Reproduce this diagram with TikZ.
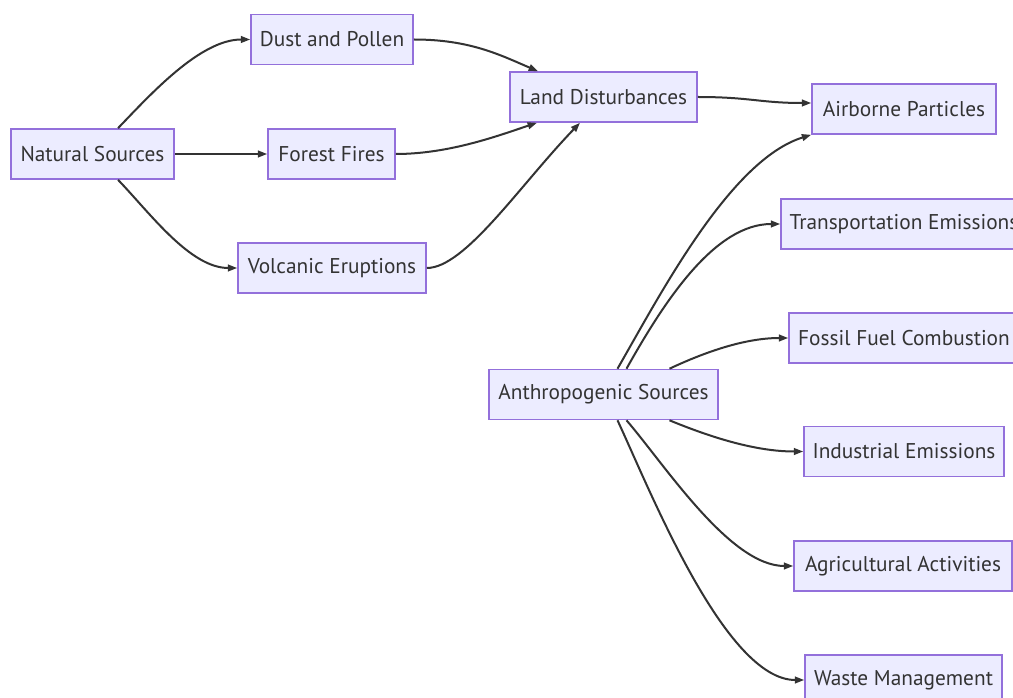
\documentclass[tikz,border=0pt]{standalone}
\usepackage{fontspec}
\setmainfont{PT Sans}
\usetikzlibrary{arrows.meta,calc}
\definecolor{boxfill}{HTML}{ECECFF}
\definecolor{boxline}{HTML}{9370DB}
\definecolor{inkgray}{HTML}{333333}
\tikzset{
  box/.style={draw=boxline, fill=boxfill, line width=1.2pt, rectangle,
    minimum height=50*0.75pt, inner sep=0pt, text=inkgray,
    font=\fontsize{16pt}{19pt}\selectfont},
  boxw/.style={box, minimum width=#1*0.75pt},
  link/.style={draw=inkgray, line width=1.5pt,
    -{Triangle[length=7pt,width=5pt]}},
}
\begin{document}
\begin{tikzpicture}[x=0.75pt,y=-0.75pt]
\useasboundingbox (0,0) rectangle (1013,698);
\clip (0,0) rectangle (1013,698);
\fill[white] (0,0) rectangle (1013,698);

% source nodes
\node[boxw=163] (ns) at (92.5,154) {Natural Sources};
\node[boxw=162] (dust) at (332,39.5) {Dust and Pollen};
\node[boxw=127] (forest) at (331.5,154) {Forest Fires};
\node[boxw=188] (volc) at (332,268) {Volcanic Eruptions};
\node[boxw=187] (land) at (603.5,97) {Land Disturbances};
\node[boxw=229] (anthro) at (603.5,394.5) {Anthropogenic Sources};

% right-hand column
\node[boxw=184] (air) at (904,109) {Airborne Particles};
\node[boxw=246] (trans) at (904,224) {Transportation Emissions};
\node[boxw=230] (fossil) at (904,338) {Fossil Fuel Combustion};
\node[boxw=200] (ind) at (904,451.5) {Industrial Emissions};
\node[boxw=218] (agri) at (903,566) {Agricultural Activities};
\node[boxw=197] (waste) at (903.5,680) {Waste Management};

% natural branch
\draw[link] ($(ns.north)+(25.5,0)$) .. controls (150,95) and (200,39.5) .. (dust.west);
\draw[link] (ns.east) -- (forest.west);
\draw[link] ($(ns.south)+(25.5,0)$) .. controls (150,213) and (190,268) .. (volc.west);

\draw[link] (dust.east) .. controls (470,39.5) and (500,55) .. ($(land.north)+(-65.5,0)$);
\draw[link] (forest.east) .. controls (450,154) and (500,135) .. ($(land.south)+(-66.5,0)$);
\draw[link] (volc.east) .. controls (465,268) and (520,185) .. ($(land.south)+(-23.5,0)$);

\draw[link] (land.east) .. controls (750,97) and (760,103) .. ($(air.west)+(0,-6)$);

% anthropogenic branch
\draw[link] ($(anthro.north)+(14,0)$) .. controls (660,295) and (730,160) .. (air.south west);
\draw[link] ($(anthro.north)+(23,0)$) .. controls (665,300) and (715,224) .. (trans.west);
\draw[link] ($(anthro.north)+(66,0)$) .. controls (705,352) and (745,338) .. (fossil.west);
\draw[link] ($(anthro.south)+(66,0)$) .. controls (710,437) and (755,451.5) .. (ind.west);
\draw[link] ($(anthro.south)+(23,0)$) .. controls (665,465) and (730,566) .. (agri.west);
\draw[link] ($(anthro.south)+(14,0)$) .. controls (650,490) and (725,680) .. (waste.west);
\end{tikzpicture}
\end{document}
